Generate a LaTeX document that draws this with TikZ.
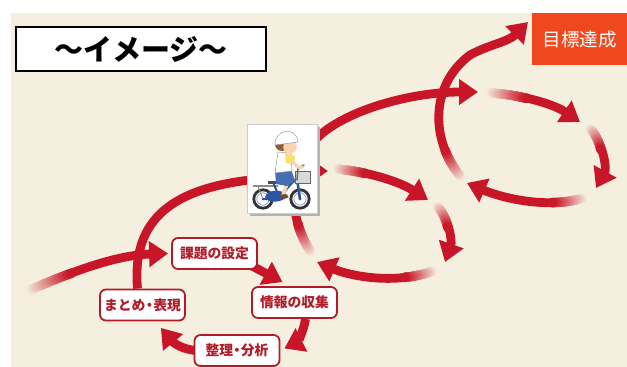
\documentclass[tikz,border=0pt]{standalone}
\usepackage{fontspec}
\setmainfont{Noto Sans CJK JP}
\usetikzlibrary{arrows.meta,decorations.markings,backgrounds}

\definecolor{paper}{RGB}{245,239,224}
\definecolor{bandred}{RGB}{200,22,40}
\definecolor{tagred}{RGB}{178,28,40}
\definecolor{goalorange}{RGB}{240,72,30}
\definecolor{bikeblue}{RGB}{40,85,165}
\definecolor{skin}{RGB}{250,212,176}
\definecolor{hair}{RGB}{150,90,50}
\definecolor{shirtyellow}{RGB}{250,225,110}

% narrow middle dot
\newcommand\ndot{\kern-3pt・\kern-3pt}

\tikzset{
  band/.style={draw=bandred, line width=8.8pt, -{Triangle[length=19pt,width=25pt]}},
  fadein/.style={postaction={decorate, decoration={markings,
      mark=between positions 0 and #1pt step 0.7pt with {%
        \pgfmathsetmacro\mixval{min(100,100*\pgfkeysvalueof{/pgf/decoration/mark info/distance from start}/#1)}%
        \fill[bandred!\mixval!paper] (0,0) circle (4.8pt);}}}},
  tag/.style={draw=tagred, line width=1.8pt, fill=white, rounded corners=6pt,
    minimum width=85pt, minimum height=31pt, inner sep=0pt,
    text=tagred, font=\fontsize{13.8}{14}\selectfont\bfseries},
}

\begin{document}
\begin{tikzpicture}[x=1pt,y=-1pt]
\useasboundingbox (0,0) rectangle (627,367);

% headings
\node[draw=black, line width=1.6pt, fill=white, minimum width=250pt, minimum height=44pt, inner sep=0pt,
  font=\fontsize{29}{30}\selectfont\bfseries] (title) at (141,49) {～イメージ～};
\node[fill=goalorange, minimum width=95pt, minimum height=52pt, inner sep=0pt, text=white,
  font=\fontsize{18.5}{19}\selectfont, anchor=north west] (goal) at (532,13) {目標達成};

% the four steps
\node[tag] (kadai) at (214.5,253.5) {課題の設定};
\node[tag] (joho) at (294.5,302.5) {情報の収集};
\node[tag] (seiri) at (237,350.5) {整理\ndot 分析};
\node[tag] (matome) at (142.5,305) {まとめ\ndot 表現};

\begin{scope}[on background layer]
\fill[paper] (11,13) rectangle (627,367);

% first turn
\draw[band, fadein=45] (30,290) .. controls (80,268) and (120,255) .. ([xshift=-3pt]kadai.west);
\draw[band] ([shift={(-6pt,4pt)}]kadai.south east) -- ([shift={(-12pt,4pt)}]joho.north);
\draw[band] ([xshift=11pt]joho.south) .. controls +(-2,14) and +(12,-6) .. ([shift={(4pt,2pt)}]seiri.east);
\draw[band] ([xshift=2pt]seiri.west) .. controls +(-18,-2) and +(10,12) .. ([shift={(-25pt,-6.5pt)}]matome.south east);
\draw[band] ([xshift=-5pt]matome.north) .. controls (132,225) and (165,190) .. (250,180)
  .. controls (280,175) and (300,171) .. (328,171);

% second turn
\draw[band, fadein=30] (337,169) .. controls (370,172) and (400,182) .. (428,200);
\draw[band, fadein=25] (437,206) .. controls (450,220) and (452,242) .. (445,262);
\draw[band, fadein=30] (433,271) .. controls (395,285) and (350,276) .. (317,262);
\draw[band, fadein=32] (311,252) .. controls (290,222) and (282,165) .. (325,131)
  .. controls (360,105) and (420,92) .. (478,92);

% third turn
\draw[band, fadein=38] (490,93) .. controls (525,95) and (555,105) .. (580,122);
\draw[band, fadein=25] (590,128) .. controls (603,143) and (607,168) .. (596,188);
\draw[band, fadein=32] (461,177) .. controls (430,140) and (430,85) .. (470,55)
  .. controls (488,45) and (508,42) .. ([xshift=-4pt,yshift=-9pt]goal.west |- goal.north);
\draw[band, fadein=32] (583,198) .. controls (545,210) and (497,196) .. (467,183);
\end{scope}

% rider card
\fill[black!30] (249.5,126.5) rectangle (319.5,215.5);
\node[draw=black!20, line width=0.4pt, fill=white, minimum width=70pt, minimum height=89pt, inner sep=0pt] (rider) at (282,168.5) {};

% bicycle
\foreach \cx in {263,300} {
  \draw[black!80, line width=2.8pt, fill=white] (\cx,199) circle (9.2pt);
  \draw[bikeblue!60, line width=0.7pt] (\cx,199) circle (6.2pt);
  \fill[black!70] (\cx,199) circle (1.3pt);
}
\draw[black!45, line width=1.6pt] (253,186) -- (278,186);
\draw[black!45, line width=0.9pt] (258,186) -- (263,199);
\draw[bikeblue, line width=2pt, line join=round, line cap=round] (263,199) -- (280,199) -- (273,182);
\draw[bikeblue, line width=2.6pt, line cap=round] (280,199) .. controls (286,188) and (292,182) .. (297,179) -- (300,199);
\fill[bikeblue] (265,197) .. controls (267,189) and (283,189) .. (287,195) .. controls (285,203) and (267,204) .. cycle;
\fill[black!70] (268,180.5) rectangle (278,183.5);
\draw[black!60, fill=black!15, line width=0.9pt] (295,171) rectangle (310,183);
\draw[black!60, line width=1.5pt, line cap=round] (297,180) -- (298,168) -- (304,165);

% child
\draw[skin, line width=3.6pt, line cap=round] (288,181) -- (283,195);
\fill[hair!80!black] (284,196.5) ellipse (4.5pt and 2.3pt);
\fill[bikeblue!85] (275,170) -- (291,169) -- (295,181) -- (287,186) -- (276,184) -- cycle;
\draw[black!50, line width=0.4pt, fill=white] (278,152) -- (291,153) -- (292,171) -- (275,173) -- cycle;
\fill[shirtyellow] (285,153) -- (295,156) -- (294,164) -- (286,163) -- cycle;
\draw[skin, line width=3pt, line cap=round] (293,162) -- (298,167) -- (303,167);
\fill[hair] (282,144) circle (7pt);
\fill[skin] (290,147) circle (6.8pt);
\draw[black!40, line width=0.5pt, fill=white] (275,145) .. controls (274,129) and (297,126) .. (298,142) -- cycle;
\end{tikzpicture}
\end{document}
